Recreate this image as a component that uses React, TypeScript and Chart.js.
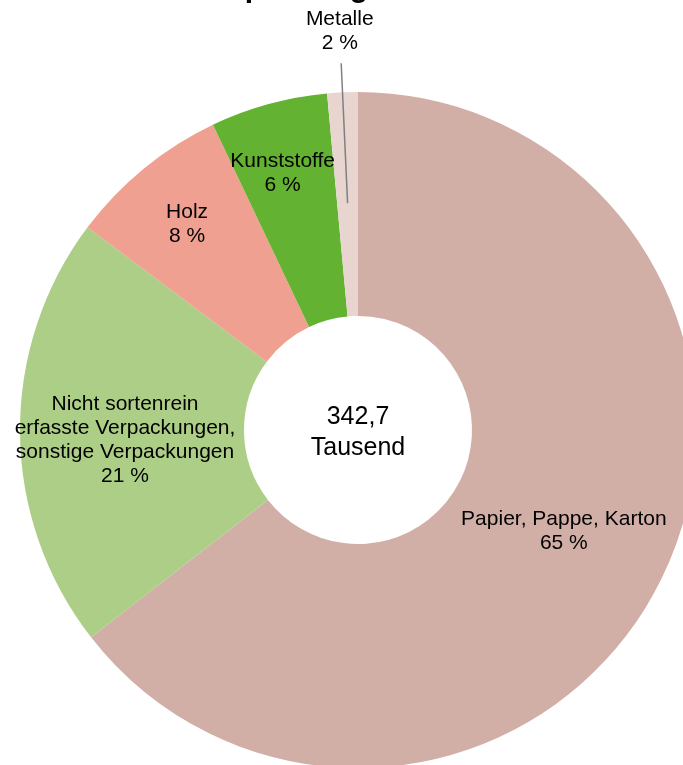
import React, { useEffect, useRef } from "react";
import { Chart, registerables } from "chart.js";

Chart.register(...registerables);

// ---- data ----
const categories = [
  "Papier, Pappe, Karton",
  "Nicht sortenrein erfasste Verpackungen, sonstige Verpackungen",
  "Holz",
  "Kunststoffe",
  "Metalle",
];
const labelLines = [
  ["Papier, Pappe, Karton"],
  ["Nicht sortenrein", "erfasste Verpackungen,", "sonstige Verpackungen"],
  ["Holz"],
  ["Kunststoffe"],
  ["Metalle"],
];
// Tausend (thousand) units
const values = [221.0, 71.1, 26.4, 19.2, 5.0];
const percentLabels = ["65 %", "21 %", "8 %", "6 %", "2 %"];
const centerLabel = ["342,7", "Tausend"];
const titleText = "Verpackungen 2021";

const colors = ["#D2AFA6", "#ADCE86", "#F0A091", "#63B231", "#E8D5D0"];

// label placement (fraction of outer radius, angle nudge in degrees)
const placement = [
  { r: 0.678, da: 0 },
  { r: 0.69, da: -2.0 },
  { r: 0.792, da: -0.4 },
  { r: 0.792, da: -1.0 },
  { r: 1.18, da: 0, leader: [0.672, 1.086] },
];

const FONT = "'Liberation Sans', Arial, sans-serif";
const CANVAS_W = 716;
const CANVAS_H = 940;
const CANVAS_TOP = -40;

const labelPlugin = {
  id: "sliceLabels",
  afterDraw(chart: any) {
    const ctx = chart.ctx;
    const meta = chart.getDatasetMeta(0);
    ctx.save();
    ctx.textAlign = "center";
    ctx.textBaseline = "middle";
    ctx.fillStyle = "#000";
    meta.data.forEach((arc: any, i: number) => {
      const p = arc.getProps(["x", "y", "startAngle", "endAngle", "outerRadius"], true);
      const mid = (p.startAngle + p.endAngle) / 2 + (placement[i].da * Math.PI) / 180;
      const R = p.outerRadius;
      const cx = p.x + Math.cos(mid) * R * placement[i].r;
      const cy = p.y + Math.sin(mid) * R * placement[i].r;
      const lines = [...labelLines[i], percentLabels[i]];
      const lh = 24;
      ctx.font = `21px ${FONT}`;
      const y0 = cy - ((lines.length - 1) * lh) / 2;
      lines.forEach((t, k) => ctx.fillText(t, cx, y0 + k * lh));
      const leader = (placement[i] as any).leader;
      if (leader) {
        ctx.strokeStyle = "#808080";
        ctx.lineWidth = 1.5;
        ctx.beginPath();
        ctx.moveTo(p.x + Math.cos(mid) * R * leader[0], p.y + Math.sin(mid) * R * leader[0]);
        ctx.lineTo(p.x + Math.cos(mid) * R * leader[1], p.y + Math.sin(mid) * R * leader[1]);
        ctx.stroke();
      }
      if (i === 0) {
        // center text
        ctx.font = `25px ${FONT}`;
        ctx.fillText(centerLabel[0], p.x, p.y - 13);
        ctx.fillText(centerLabel[1], p.x, p.y + 18);
        ctx.font = `21px ${FONT}`;
      }
    });
    // title (mostly above the visible area)
    ctx.font = `bold 30px ${FONT}`;
    ctx.textBaseline = "alphabetic";
    ctx.fillText(titleText, 338, -CANVAS_TOP - 3);
    ctx.restore();
  },
};

export default function App() {
  const ref = useRef<HTMLCanvasElement | null>(null);
  useEffect(() => {
    if (!ref.current) return;
    const chart = new Chart(ref.current, {
      type: "doughnut",
      data: {
        labels: categories,
        datasets: [
          {
            data: values,
            backgroundColor: colors,
            borderWidth: 0,
          },
        ],
      },
      options: {
        animation: false,
        responsive: false,
        devicePixelRatio: 1,
        cutout: 114,
        layout: { padding: { left: 20, right: 20, top: 132, bottom: 132 } },
        plugins: {
          legend: { display: false },
          tooltip: { enabled: false },
          title: { display: false },
        },
      },
      plugins: [labelPlugin],
    });
    return () => chart.destroy();
  }, []);
  return (
    <div
      style={{
        position: "fixed",
        left: 0,
        top: 0,
        width: 683,
        height: 765,
        overflow: "hidden",
        background: "#fff",
      }}
    >
      <canvas
        ref={ref}
        width={CANVAS_W}
        height={CANVAS_H}
        style={{ position: "absolute", left: 0, top: CANVAS_TOP, width: CANVAS_W, height: CANVAS_H }}
      />
    </div>
  );
}
